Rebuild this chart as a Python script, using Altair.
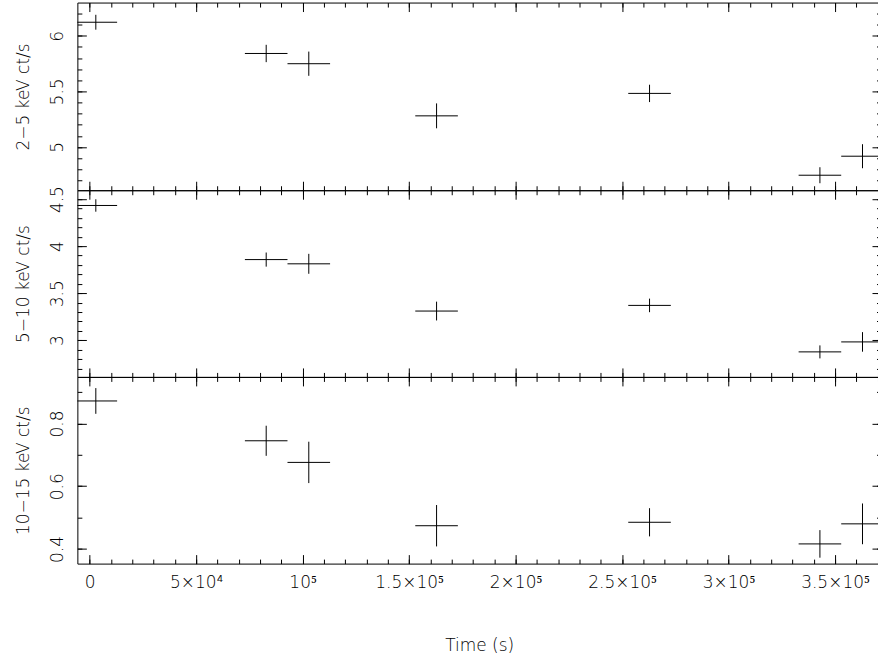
import altair as alt
import pandas as pd

# ---- data ----
time_s = [2900, 82900, 102900, 162900, 262900, 342900, 362900]
time_halfwidth = [10000, 10000, 10000, 10000, 10000, 10000, 10000]

rate_2_5 = [6.122, 5.841, 5.749, 5.280, 5.482, 4.746, 4.917]
err_2_5 = [0.067, 0.078, 0.109, 0.112, 0.078, 0.072, 0.108]

rate_5_10 = [4.432, 3.857, 3.812, 3.310, 3.370, 2.876, 2.982]
err_5_10 = [0.066, 0.075, 0.106, 0.100, 0.072, 0.069, 0.104]

rate_10_15 = [0.872, 0.745, 0.676, 0.474, 0.485, 0.416, 0.480]
err_10_15 = [0.041, 0.048, 0.066, 0.066, 0.045, 0.044, 0.065]

panel_titles = ["2\u22125 keV ct/s", "5\u221210 keV ct/s", "10\u221215 keV ct/s"]

# ---- axes ----
x_domain = [-5766, 371580]
x_major = [0, 50000, 100000, 150000, 200000, 250000, 300000, 350000]
x_major_labels = ["0", "5\u00d710\u2074", "10\u2075", "1.5\u00d710\u2075", "2\u00d710\u2075",
                  "2.5\u00d710\u2075", "3\u00d710\u2075", "3.5\u00d710\u2075"]
x_minor = [0, 10000, 20000, 30000, 40000, 50000, 60000, 70000, 80000, 90000, 100000,
           110000, 120000, 130000, 140000, 150000, 160000, 170000, 180000, 190000, 200000,
           210000, 220000, 230000, 240000, 250000, 260000, 270000, 280000, 290000, 300000,
           310000, 320000, 330000, 340000, 350000, 360000, 370000]

y_domains = [[4.611, 6.299], [2.610, 4.594], [0.3532, 0.9487]]
y_major = [[5, 5.5, 6], [3, 3.5, 4, 4.5], [0.4, 0.6, 0.8]]
y_minor = [
    [4.7, 4.8, 4.9, 5.0, 5.1, 5.2, 5.3, 5.4, 5.5, 5.6, 5.7, 5.8, 5.9, 6.0, 6.1, 6.2],
    [2.7, 2.8, 2.9, 3.0, 3.1, 3.2, 3.3, 3.4, 3.5, 3.6, 3.7, 3.8, 3.9, 4.0, 4.1, 4.2, 4.3, 4.4, 4.5],
    [0.4, 0.5, 0.6, 0.7, 0.8, 0.9],
]

FONT = "DejaVu Sans"
FS = 17
PLOT_W = 805
HEIGHTS = [188, 187, 187]
MAJ = 9
MIN = 4.5

label_expr = "".join(
    f"datum.value == {v} ? '{lab}' : " for v, lab in zip(x_major, x_major_labels)
) + "''"


def panel(rates, errs, title, ydom, ymaj, ymin, height, bottom):
    df = pd.DataFrame({
        "t": time_s,
        "tlo": [t - h for t, h in zip(time_s, time_halfwidth)],
        "thi": [t + h for t, h in zip(time_s, time_halfwidth)],
        "v": rates,
        "lo": [r - e for r, e in zip(rates, errs)],
        "hi": [r + e for r, e in zip(rates, errs)],
    })
    xs = alt.Scale(domain=x_domain, nice=False, zero=False)
    ys = alt.Scale(domain=ydom, nice=False, zero=False)
    common = dict(grid=False, domain=False, tickColor="black", tickWidth=1,
                  labelFlush=False, labelOverlap=False)

    xb_major_kw = dict(orient="bottom", values=x_major, offset=-MAJ, tickSize=MAJ,
                       labels=bottom, **common)
    if bottom:
        xb_major_kw.update(labelExpr=label_expr, labelPadding=23.5,
                           labelBaseline="alphabetic", labelAlign="center",
                           title="Time (s)", titleBaseline="alphabetic", titleY=96)
    else:
        xb_major_kw.update(title=None)
    xb_major = alt.Axis(**xb_major_kw)
    xb_minor = alt.Axis(orient="bottom", values=x_minor, offset=-MIN, tickSize=MIN,
                        labels=False, title=None, **common)
    xt_major = alt.Axis(orient="top", values=x_major, offset=-MAJ, tickSize=MAJ,
                        labels=False, title=None, **common)
    xt_minor = alt.Axis(orient="top", values=x_minor, offset=-MIN, tickSize=MIN,
                        labels=False, title=None, **common)

    yl_major = alt.Axis(orient="left", values=ymaj, offset=-MAJ, tickSize=MAJ,
                        labels=True, format="~g", labelAngle=270, labelAlign="center",
                        labelBaseline="alphabetic", labelPadding=15,
                        title=title, titleAngle=270, titleAlign="center",
                        titleBaseline="alphabetic", titleX=-58, titleY=height / 2,
                        **common)
    yl_minor = alt.Axis(orient="left", values=ymin, offset=-MIN, tickSize=MIN,
                        labels=False, title=None, **common)
    yr_major = alt.Axis(orient="right", values=ymaj, offset=-MAJ, tickSize=MAJ,
                        labels=False, title=None, **common)
    yr_minor = alt.Axis(orient="right", values=ymin, offset=-MIN, tickSize=MIN,
                        labels=False, title=None, **common)

    base = alt.Chart(df)
    hbar = base.mark_rule(clip=True, color="black", strokeWidth=1).encode(
        x=alt.X("tlo:Q", scale=xs, axis=xb_major),
        x2="thi:Q",
        y=alt.Y("v:Q", scale=ys, axis=yl_major),
    )
    vbar = base.mark_rule(clip=True, color="black", strokeWidth=1).encode(
        x=alt.X("t:Q", scale=xs, axis=xb_minor),
        y=alt.Y("lo:Q", scale=ys, axis=yl_minor),
        y2="hi:Q",
    )
    ghost1 = base.mark_point(opacity=0).encode(
        x=alt.X("t:Q", scale=xs, axis=xt_major),
        y=alt.Y("v:Q", scale=ys, axis=yr_major),
    )
    ghost2 = base.mark_point(opacity=0).encode(
        x=alt.X("t:Q", scale=xs, axis=xt_minor),
        y=alt.Y("v:Q", scale=ys, axis=yr_minor),
    )
    return (
        alt.layer(hbar, vbar, ghost1, ghost2)
        .resolve_scale(x="shared", y="shared")
        .resolve_axis(x="independent", y="independent")
        .properties(width=PLOT_W, height=height)
    )


p1 = panel(rate_2_5, err_2_5, panel_titles[0], y_domains[0], y_major[0], y_minor[0], HEIGHTS[0], False)
p2 = panel(rate_5_10, err_5_10, panel_titles[1], y_domains[1], y_major[1], y_minor[1], HEIGHTS[1], False)
p3 = panel(rate_10_15, err_10_15, panel_titles[2], y_domains[2], y_major[2], y_minor[2], HEIGHTS[2], True)

chart = (
    alt.vconcat(p1, p2, p3, spacing=0, bounds="flush")
    .properties(padding={"left": 13.5, "top": 1, "right": -4, "bottom": 0}, background="white")
    .configure_view(stroke="black", strokeWidth=1)
    .configure_axis(labelFont=FONT, labelFontSize=FS, labelColor="black",
                    labelFontWeight=300,
                    titleFont=FONT, titleFontSize=FS, titleColor="black",
                    titleFontWeight=300)
)

chart.save("out.html", embed_options={"renderer": "svg", "actions": False})
